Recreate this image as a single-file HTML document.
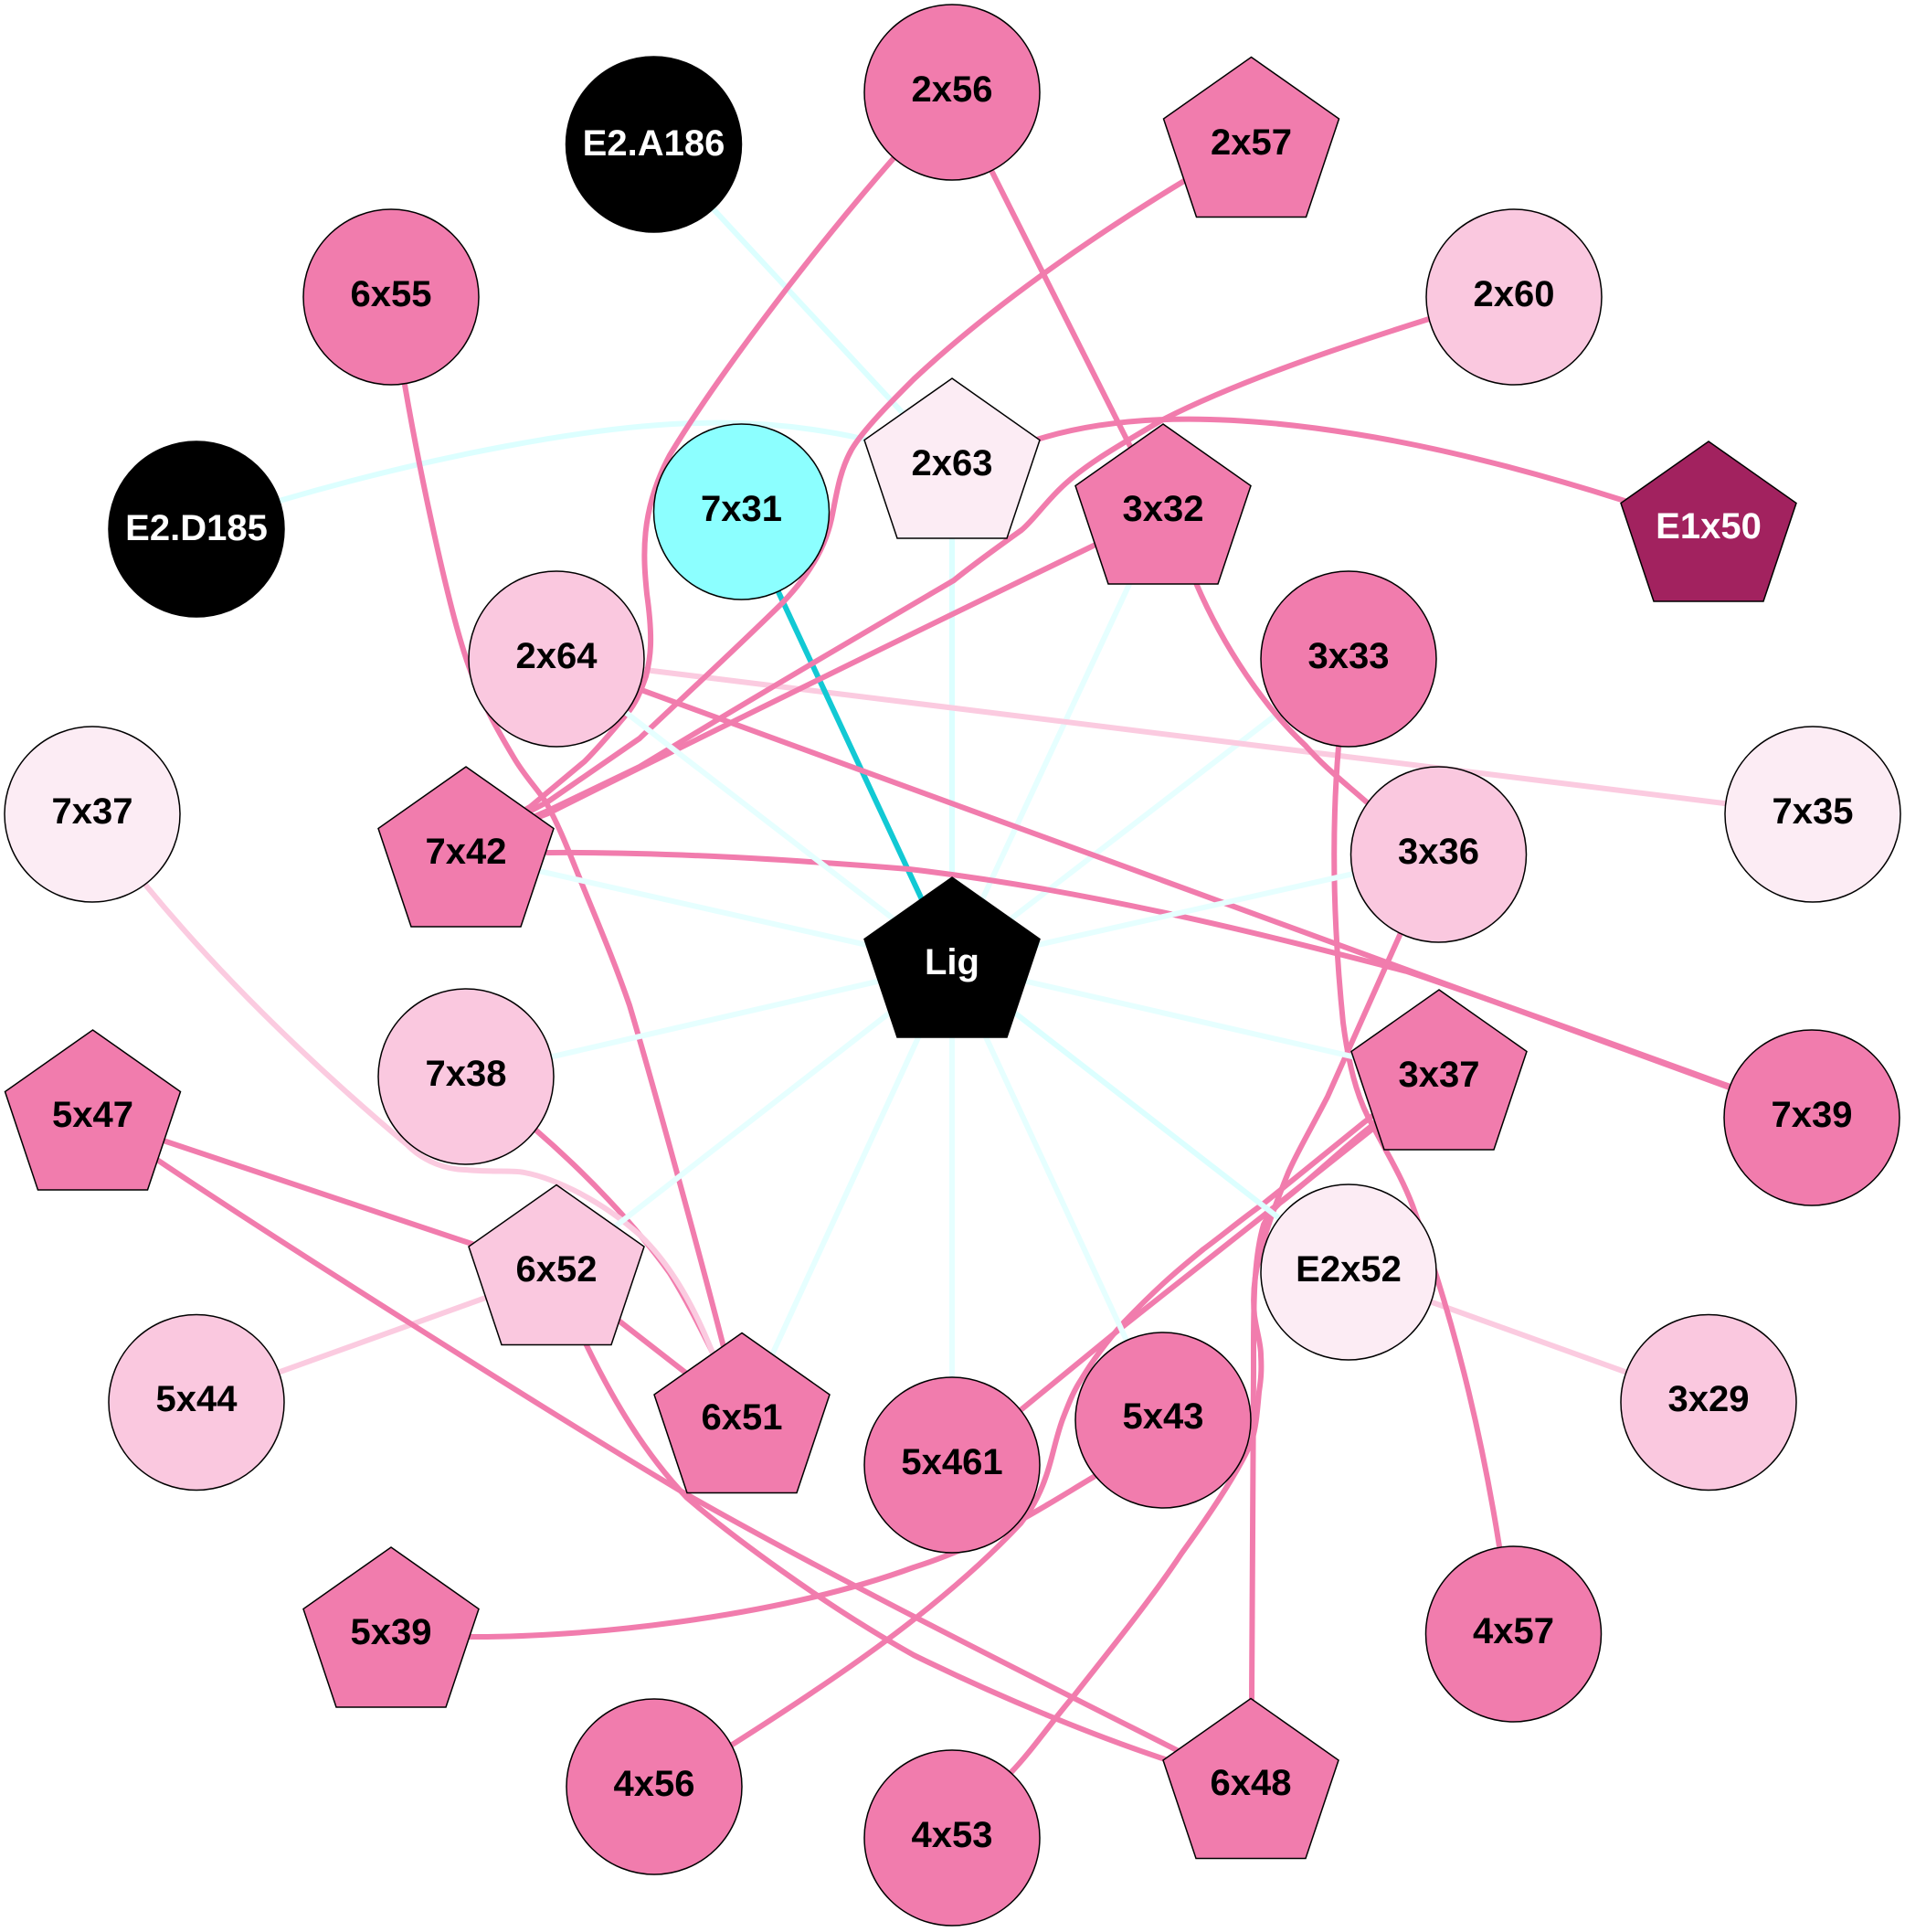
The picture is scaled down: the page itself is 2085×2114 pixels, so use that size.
<!DOCTYPE html>
<html>
<head>
<meta charset="utf-8">
<style>
html,body{margin:0;padding:0;background:#fff}
svg{display:block}
text{font-family:"Liberation Sans",Arial,sans-serif;font-weight:bold;font-size:40px;text-anchor:middle}
.e{fill:none;stroke-width:6}
.p{stroke:#F17CAD}
.l{stroke:#FBCBE0}
.c{stroke:#DCFFFF}
.d{stroke:#E6FFFF}
.n{stroke:#000;stroke-width:1.5}
</style>
</head>
<body>
<svg width="2085" height="2114" viewBox="0 0 2085 2114" xmlns="http://www.w3.org/2000/svg">
<rect width="2085" height="2114" fill="#fff"/>
<!-- under edges -->
<path class="e c" d="M1042 1055L1042 510"/>
<path class="e d" d="M1042 1055L1273 560"/>
<path class="e d" d="M1042 1055L1476 721"/>
<path class="e c" d="M715 158L1042 510"/>
<path class="e c" d="M215 579L309 547C470 500 650 465 765 463C830 461 890 468 944 480L1042 510"/>
<!-- light pink -->
<path class="e l" d="M609 721L1984 891"/>
<path class="e l" d="M215 1534L609 1392"/>
<path class="e l" d="M1476 1392L1870 1534"/>
<!-- teal -->
<path class="e" stroke="#12C9D4" d="M811 560L1042 1055"/>
<!-- pink -->
<path class="e p" d="M1042 101L979 172C880 285 780 420 733 498C700 560 704 610 708 650C715 700 712 720 707 740C700 760 695 770 687 780C672 798 655 818 640 833L580 883L510 925"/>
<path class="e p" d="M1042 101L1273 560"/>
<path class="e p" d="M1369 158L1296 198C1190 262 1080 340 1000 415C975 440 945 470 932 492C918 517 915 545 910 568C903 600 885 630 856 660C800 715 740 770 700 808L600 877L510 925"/>
<path class="e p" d="M1657 325L1564 349C1450 385 1350 420 1273 459C1220 490 1185 510 1159 536C1140 555 1130 570 1118 580C1090 600 1060 622 1044 635C950 690 830 760 700 839L600 887L510 925"/>
<path class="e p" d="M1273 560C1150 620 900 740 600 890L510 925"/>
<path class="e p" d="M1042 510L1138 480C1220 455 1330 450 1484 475C1590 492 1690 520 1775 547L1870 577"/>
<path class="e p" d="M428 325L443 421C460 520 490 660 510 720C525 765 545 800 563 830C575 850 587 862 597 877C610 900 620 925 630 950C650 1000 670 1045 689 1100C710 1170 760 1350 791 1470L812 1550"/>
<path class="e p" d="M1273 550L1309 638C1340 710 1385 775 1429 816C1450 840 1470 855 1495 877L1575 935"/>
<path class="e p" d="M1476 721L1465 817C1458 900 1458 1000 1470 1119C1478 1180 1490 1210 1502 1231C1520 1265 1535 1290 1546 1319C1590 1440 1620 1560 1641 1692L1656 1788"/>
<path class="e p" d="M510 925L600 933C720 932 860 940 995 951C1200 975 1400 1027 1540 1063C1650 1100 1800 1155 1891 1188L1983 1223"/>
<path class="e p" d="M609 721L1983 1223"/>
<path class="e p" d="M1575 935L1533 1021L1453 1200C1435 1235 1420 1260 1410 1283C1395 1320 1384 1350 1378 1377C1372 1400 1371 1420 1373 1440C1376 1460 1380 1470 1380 1483C1381 1500 1380 1510 1378 1523C1376 1545 1375 1560 1370 1577C1360 1600 1340 1635 1293 1700C1260 1750 1215 1805 1175 1856C1150 1885 1130 1915 1106 1940L1042 2011"/>
<path class="e p" d="M1369 1950L1370 1858L1372 1500C1372 1440 1371 1380 1383 1340C1388 1330 1392 1325 1400 1317C1430 1295 1465 1260 1500 1233L1575 1165"/>
<path class="e p" d="M1042 1603L1117 1543L1227 1453L1383 1330L1500 1237L1575 1165"/>
<path class="e p" d="M716 1955L803 1908C910 1840 1030 1760 1117 1667C1132 1648 1140 1630 1145 1615C1152 1595 1155 1575 1163 1553C1170 1535 1175 1522 1183 1510C1195 1490 1212 1467 1230 1447C1270 1405 1295 1385 1317 1367C1340 1350 1360 1333 1383 1317L1493 1228L1575 1165"/>
<path class="e p" d="M428 1790L513 1791C640 1792 850 1770 1000 1715C1080 1690 1140 1650 1197 1616L1273 1553"/>
<path class="e p" d="M101 1222L609 1392"/>
<path class="e p" d="M101 1222L172 1269C300 1355 600 1545 746 1632C900 1720 1100 1820 1288 1915L1369 1950"/>
<path class="e p" d="M609 1392L641 1470C670 1530 705 1590 752 1639C800 1680 900 1755 1000 1811C1100 1860 1200 1900 1275 1925L1369 1950"/>
<path class="e p" d="M609 1392L812 1550"/>
<path class="e p" d="M510 1178L587 1237C640 1283 695 1340 733 1393C750 1420 765 1450 778 1476L812 1550"/>
<path class="e l" d="M101 891L159 968C210 1030 300 1130 446 1253C465 1272 490 1280 510 1280C540 1283 560 1280 574 1283C610 1290 660 1315 701 1352C735 1385 760 1430 781 1483L812 1550"/>
<!-- over edges -->
<path class="e d" d="M1042 1055L1575 935"/>
<path class="e d" d="M1042 1055L1575 1178"/>
<path class="e c" d="M1042 1055L1476 1392"/>
<path class="e d" d="M1042 1055L1273 1553"/>
<path class="e d" d="M1042 1055L1042 1603"/>
<path class="e d" d="M1042 1055L812 1554"/>
<path class="e d" d="M1042 1055L609 1392"/>
<path class="e d" d="M1042 1055L510 1178"/>
<path class="e d" d="M1042 1055L510 935"/>
<path class="e d" d="M1042 1055L609 721"/>
<!-- circle nodes -->
<circle class="n" cx="715.5" cy="158" r="96" fill="#000"/><text x="715.5" y="170" fill="#fff">E2.A186</text>
<circle class="n" cx="215" cy="579" r="96" fill="#000"/><text x="215" y="591" fill="#fff">E2.D185</text>
<circle class="n" cx="1042" cy="101" r="96" fill="#F17CAD"/><text x="1042" y="111">2x56</text>
<circle class="n" cx="428" cy="325" r="96" fill="#F17CAD"/><text x="428" y="335">6x55</text>
<circle class="n" cx="1657" cy="325" r="96" fill="#FAC8DF"/><text x="1657" y="335">2x60</text>
<circle class="n" cx="811.5" cy="560" r="96" fill="#8CFFFF"/><text x="811.5" y="570">7x31</text>
<circle class="n" cx="609" cy="721" r="96" fill="#FAC8DF"/><text x="609" y="731">2x64</text>
<circle class="n" cx="1476" cy="721" r="96" fill="#F17CAD"/><text x="1476" y="731">3x33</text>
<circle class="n" cx="101" cy="891" r="96" fill="#FCECF4"/><text x="101" y="901">7x37</text>
<circle class="n" cx="1984" cy="891" r="96" fill="#FCECF4"/><text x="1984" y="901">7x35</text>
<circle class="n" cx="1574.5" cy="935" r="96" fill="#FAC8DF"/><text x="1574.5" y="945">3x36</text>
<circle class="n" cx="510" cy="1178" r="96" fill="#FAC8DF"/><text x="510" y="1188">7x38</text>
<circle class="n" cx="1983" cy="1223" r="96" fill="#F17CAD"/><text x="1983" y="1233">7x39</text>
<circle class="n" cx="1476" cy="1392" r="96" fill="#FCECF4"/><text x="1476" y="1402">E2x52</text>
<circle class="n" cx="215" cy="1534.5" r="96" fill="#FAC8DF"/><text x="215" y="1544">5x44</text>
<circle class="n" cx="1870" cy="1534.5" r="96" fill="#FAC8DF"/><text x="1870" y="1544">3x29</text>
<circle class="n" cx="1273" cy="1554" r="96" fill="#F17CAD"/><text x="1273" y="1563">5x43</text>
<circle class="n" cx="1042" cy="1603" r="96" fill="#F17CAD"/><text x="1042" y="1613">5x461</text>
<circle class="n" cx="1656.5" cy="1788" r="96" fill="#F17CAD"/><text x="1656.5" y="1798">4x57</text>
<circle class="n" cx="716" cy="1955" r="96" fill="#F17CAD"/><text x="716" y="1965">4x56</text>
<circle class="n" cx="1042" cy="2011" r="96" fill="#F17CAD"/><text x="1042" y="2021">4x53</text>
<!-- pentagon nodes -->
<polygon class="n" transform="translate(1042 960)" points="0,0 96,67.5 60,175 -60,175 -96,67.5" fill="#000"/><text x="1042" y="1066" fill="#fff">Lig</text>
<polygon class="n" transform="translate(1042 414)" points="0,0 96,67.5 60,175 -60,175 -96,67.5" fill="#FCECF4"/><text x="1042" y="520">2x63</text>
<polygon class="n" transform="translate(1273 464)" points="0,0 96,67.5 60,175 -60,175 -96,67.5" fill="#F17CAD"/><text x="1273" y="570">3x32</text>
<polygon class="n" transform="translate(1369.5 62.5)" points="0,0 96,67.5 60,175 -60,175 -96,67.5" fill="#F17CAD"/><text x="1369.5" y="169">2x57</text>
<polygon class="n" transform="translate(1870 483)" points="0,0 96,67.5 60,175 -60,175 -96,67.5" fill="#A2225F"/><text x="1870" y="589" fill="#fff">E1x50</text>
<polygon class="n" transform="translate(510 839)" points="0,0 96,67.5 60,175 -60,175 -96,67.5" fill="#F17CAD"/><text x="510" y="945">7x42</text>
<polygon class="n" transform="translate(1575 1083)" points="0,0 96,67.5 60,175 -60,175 -96,67.5" fill="#F17CAD"/><text x="1575" y="1189">3x37</text>
<polygon class="n" transform="translate(101.5 1127)" points="0,0 96,67.5 60,175 -60,175 -96,67.5" fill="#F17CAD"/><text x="101.5" y="1233">5x47</text>
<polygon class="n" transform="translate(609 1296.5)" points="0,0 96,67.5 60,175 -60,175 -96,67.5" fill="#FAC8DF"/><text x="609" y="1402">6x52</text>
<polygon class="n" transform="translate(812 1458.5)" points="0,0 96,67.5 60,175 -60,175 -96,67.5" fill="#F17CAD"/><text x="812" y="1564">6x51</text>
<polygon class="n" transform="translate(428 1693)" points="0,0 96,67.5 60,175 -60,175 -96,67.5" fill="#F17CAD"/><text x="428" y="1799">5x39</text>
<polygon class="n" transform="translate(1369 1858.5)" points="0,0 96,67.5 60,175 -60,175 -96,67.5" fill="#F17CAD"/><text x="1369" y="1964">6x48</text>
</svg>
</body>
</html>
